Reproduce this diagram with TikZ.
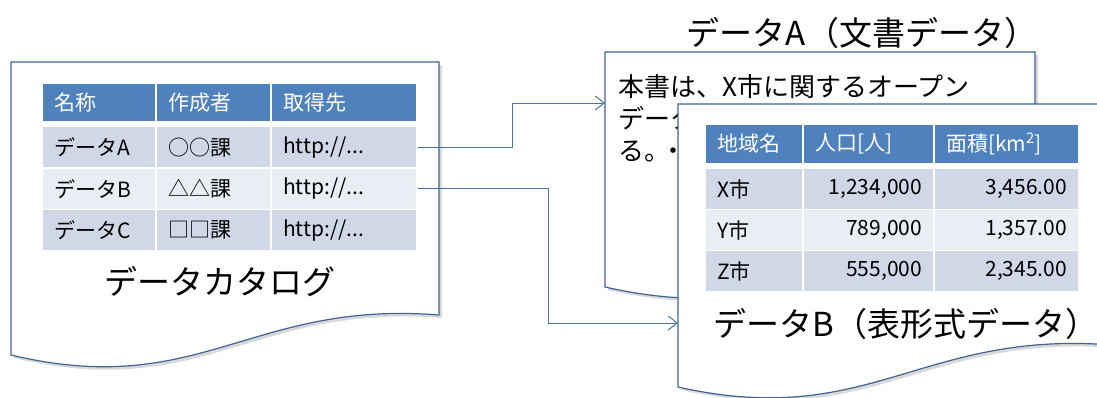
\documentclass[tikz,border=0pt]{standalone}
\usepackage{fontspec}
\setmainfont{Noto Sans CJK JP}
\usetikzlibrary{arrows.meta,shadows}
\definecolor{hdblue}{HTML}{4F81BD}
\definecolor{rowdark}{HTML}{D0D8E8}
\definecolor{rowlight}{HTML}{E9EDF4}
\definecolor{docline}{HTML}{3F6494}
\definecolor{linkline}{HTML}{4C72A6}
\newcommand{\tabfont}{\fontsize{21pt}{25pt}\selectfont}
\tikzset{
  cell/.style = {rectangle, draw=white, line width=1.5pt, inner xsep=12pt, inner ysep=0pt,
                 minimum height=41.5pt, font=\tabfont, align=left},
  headcell/.style = {cell, fill=hdblue, text=white, minimum height=39pt},
  darkrow/.style = {cell, fill=rowdark},
  lightrow/.style = {cell, fill=rowlight},
  col/.style 2 args = {minimum width=#1, text width=#2},
  paper/.style = {draw=docline, line width=1.2pt, fill=white,
                  drop shadow={shadow xshift=3pt, shadow yshift=-3pt, opacity=0.3}},
  link/.style = {draw=linkline, line width=1pt, -{Straight Barb[length=9pt,width=14pt]}},
  title/.style = {inner sep=0pt, font=\fontsize{33pt}{36pt}\selectfont},
  prose/.style = {anchor=base west, inner sep=0pt, font=\fontsize{26pt}{32pt}\selectfont}
}

\begin{document}
\begin{tikzpicture}[x=1pt,y=-1pt]
    \useasboundingbox (0,0) rectangle (1097,397);
    \clip (0,0) rectangle (1097,397);

    % catalog sheet
    \path[paper] (11,62) -- (439,62) -- (439,315) .. controls (250,300) and (200,400) .. (11,355) -- cycle;
    \node[headcell,col={114pt}{90pt}] (cat-h1) at (99,102.5) {名称};
    \node[headcell,col={115pt}{91pt}] (cat-h2) at (213.5,102.5) {作成者};
    \node[headcell,col={146pt}{122pt}] (cat-h3) at (344,102.5) {取得先};
    \foreach \r/\y/\kind/\name/\sect in {a/147.25/darkrow/データA/○○課,
                                          b/188.75/lightrow/データB/△△課,
                                          c/230.25/darkrow/データC/□□課} {
        \node[\kind,col={114pt}{90pt}] (cat-\r1) at (99,\y) {\name};
        \node[\kind,col={115pt}{91pt}] (cat-\r2) at (213.5,\y) {\sect};
        \node[\kind,col={146pt}{122pt}] (cat-\r3) at (344,\y) {http://...};
    }
    \node[title] (cat-title) at (220,282) {データカタログ};

    % document A
    \path[paper] (605,52) -- (1035,52) -- (1035,250) .. controls (845,235) and (795,330) .. (605,287) -- cycle;
    \node[prose] (docA-l1) at (618,96) {本書は、X市に関するオープン};
    \node[prose] (docA-l2) at (618,128) {データ};
    \node[prose] (docA-l3) at (618,160) {る。\kern-10pt・・};
    \node[title] (docA-title) at (862,33) {データA（文書データ）};
    \coordinate (docA-in) at (605,103);
    \coordinate (docB-in) at (678,323);

    % links
    \draw[link] (cat-a3.east) -- ++(95,0) |- (docA-in);
    \draw[link] (cat-b3.east) -- ++(131,0) |- (docB-in);

    % document B
    \path[paper] (678,104) -- (1112,104) -- (1112,345) .. controls (920,330) and (870,430) .. (678,387) -- cycle;
    \node[headcell,col={98pt}{74pt}] (tab-h1) at (754,144) {地域名};
    \node[headcell,col={131pt}{107pt}] (tab-h2) at (868.5,144) {人口[人]};
    \node[headcell,col={145pt}{121pt}] (tab-h3) at (1006.5,144) {面積[km\textsuperscript{2}]};
    \foreach \r/\y/\kind/\city/\pop/\area in {x/189/darkrow/X市/{1,234,000}/{3,456.00},
                                               y/230/lightrow/Y市/{789,000}/{1,357.00},
                                               z/271/darkrow/Z市/{555,000}/{2,345.00}} {
        \node[\kind,col={98pt}{74pt}] (tab-\r1) at (754,\y) {\city};
        \node[\kind,col={131pt}{107pt},align=right] (tab-\r2) at (868.5,\y) {\pop};
        \node[\kind,col={145pt}{121pt},align=right] (tab-\r3) at (1006.5,\y) {\area};
    }
    \node[title] (docB-title) at (906,324) {データB（表形式データ）};
\end{tikzpicture}
\end{document}
